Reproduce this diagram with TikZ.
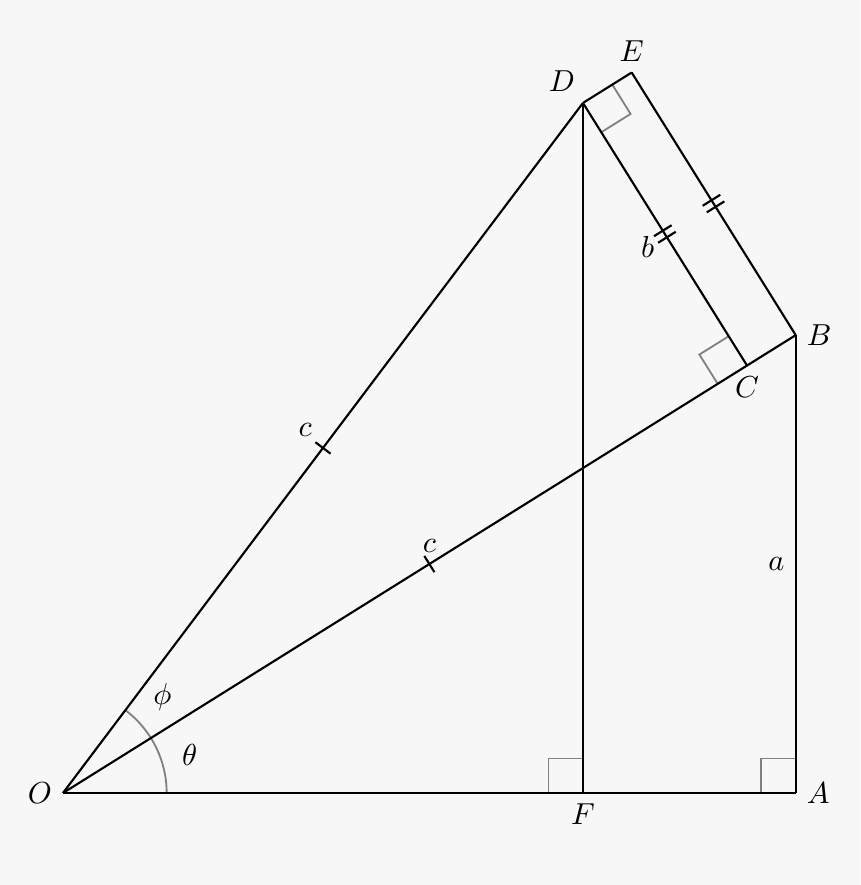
\documentclass[tikz,border=0pt]{standalone}
\usetikzlibrary{calc,angles,decorations.markings}
\definecolor{bgcol}{RGB}{247,247,247}
\begin{document}
\begin{tikzpicture}[line width=0.7pt,
    mk/.style={draw,gray,line width=0.6pt,angle radius=0.4cm},
    onetick/.style={postaction={decorate,decoration={markings,
        mark=at position .5 with {\draw (0,-0.11) -- (0,0.11);}}}},
    twoticks/.style={postaction={decorate,decoration={markings,
        mark=at position .5 with {\draw (-0.045,-0.12) -- (-0.045,0.12) (0.045,-0.12) -- (0.045,0.12);}}}},
    side/.style={font=\normalsize}]
  \fill[bgcol] (-0.729,-1.065) rectangle (9.225,9.178);
  \useasboundingbox (-0.729,-1.065) rectangle (9.225,9.178);
  % points
  \coordinate[label=left:$O$] (O) at (0,0);
  \coordinate[label=right:$B$] (B) at (32:10);
  \coordinate[label={[xshift=1pt]above left:$D$}] (D) at (53:10);
  \coordinate[label=right:$A$] (A) at (B |- O);
  \coordinate[label=below:$F$] (F) at (D |- O);
  \coordinate[label=below:$C$] (C) at ($(O)!(D)!(B)$);
  \coordinate[label=above:$E$] (E) at ($(D)+(B)-(C)$);
  % right angles and the angle arc
  \pic[mk] {right angle=D--F--O};
  \pic[mk] {right angle=B--A--O};
  \pic[mk] {right angle=O--C--D};
  \pic[mk] {right angle=C--D--E};
  \pic[draw,gray,line width=0.6pt,angle radius=1.2cm] {angle=A--O--D};
  \node (theta) at (16.7:1.53) {$\theta$};
  \node (phi) at (44:1.6) {$\phi$};
  % sides
  \draw (O) -- (A);
  \draw (A) -- node[side,left] {$a$} (B);
  \draw[onetick] (O) -- node[side,above] {$c$} (B);
  \draw[onetick] (O) -- node[side,above left] {$c$} (D);
  \draw (D) -- (F);
  \draw[twoticks] (D) -- node[side,pos=0.55,left,xshift=-0.09cm] {$b$} (C);
  \draw (D) -- (E);
  \draw[twoticks] (E) -- (B);
\end{tikzpicture}
\end{document}
